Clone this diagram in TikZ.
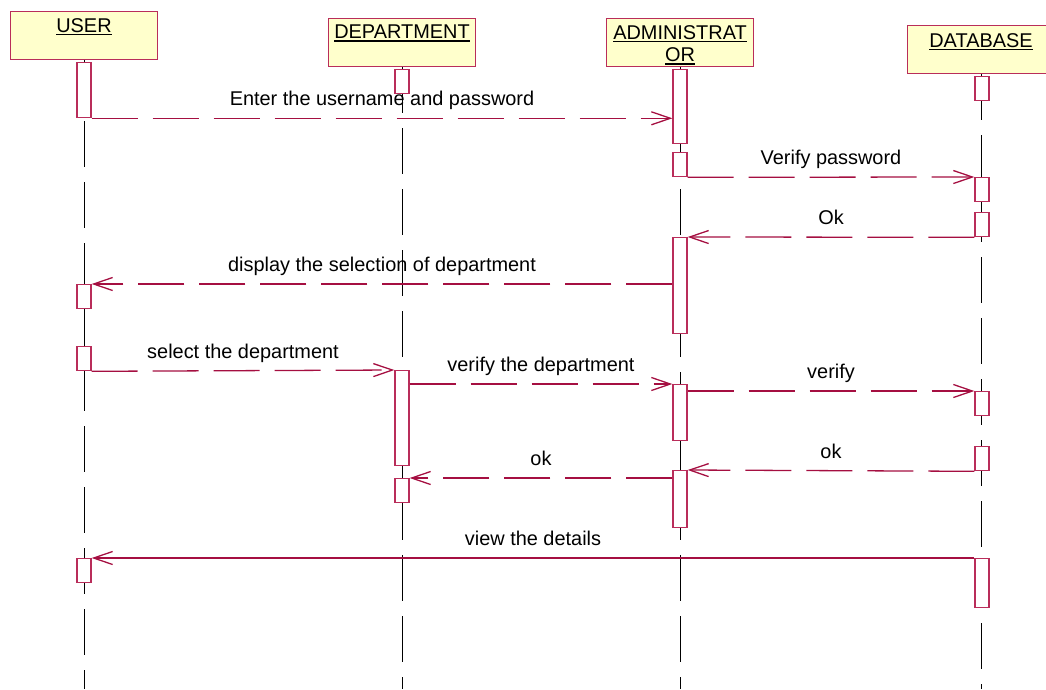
\documentclass[tikz,border=0pt]{standalone}
\usepackage{fontspec}
\setmainfont{Liberation Sans}
\usepackage{xcolor}
\usepackage{tikz}
\usetikzlibrary{arrows.meta}
\usetikzlibrary{positioning}

\definecolor{roseline}{RGB}{165,15,65}
\definecolor{rosebox}{RGB}{185,45,90}
\definecolor{rosefill}{RGB}{255,255,204}

\newcommand{\hdrul}[1]{\leavevmode\vtop{\hbox{#1}\kern1.1pt\hrule height 1.5pt}}

\tikzset{
	hdr/.style={draw=rosebox,fill=rosefill,line width=1.2pt,minimum width=4.41cm,minimum height=1.44cm,anchor=north,inner sep=0pt},
	hdrtext/.style={inner sep=0pt,align=center},
	life/.style={line width=0.8pt,dash pattern=on 1.38cm off 0.45cm},
	act/.style={draw=rosebox,fill=white,line width=1.1pt,minimum width=0.42cm,inner sep=0pt,anchor=north},
	msg/.style={draw=roseline,line width=1.1pt,dash pattern=on 1.38cm off 0.45cm,-{Straight Barb[length=0.57cm,width=0.39cm]}},
	msgsolid/.style={msg,solid},
	msgtext/.style={above=0.21cm,inner sep=0pt,text depth=0.15cm}
}

\begin{document}
\begin{tikzpicture}[x=0.03cm,y=-0.03cm,font=\fontsize{17}{19}\selectfont]
	
	\useasboundingbox (0,0) rectangle (1046,689);
	\clip (0,0) rectangle (1046,689);
	
	\coordinate (bot) at (0,689);
	
	\node [hdr] (user) at (84,11) {};
	\node [hdr] (dept) at (402,18) {};
	\node [hdr] (admin) at (680,18) {};
	\node [hdr] (db) at (981,25) {};
	
	\node [hdrtext,below=0.21cm of user.north] (usert) {\hdrul{USER}};
	\node [hdrtext,below=0.21cm of dept.north] (deptt) {\hdrul{DEPARTMENT}};
	\node [hdrtext,below=0.21cm of admin.north] (admint) {\hdrul{ADMINISTRAT}\\\hdrul{OR}};
	\node [hdrtext,below=0.24cm of db.north] (dbt) {\hdrul{DATABASE}};
	
	\draw [life] (user.south) -- (user.south |- bot);
	\draw [life] (dept.south) -- (dept.south |- bot);
	\draw [life] (admin.south) -- (admin.south |- bot);
	\draw [life] (db.south) -- (db.south |- bot);
	
	\node [act,minimum height=1.65cm] (u1) at (84,62) {};
	\node [act,minimum height=0.72cm] (u2) at (84,284) {};
	\node [act,minimum height=0.72cm] (u3) at (84,346) {};
	\node [act,minimum height=0.72cm] (u4) at (84,558) {};
	
	\node [act,minimum height=0.72cm] (d1) at (402,69) {};
	\node [act,minimum height=2.85cm] (d2) at (402,370) {};
	\node [act,minimum height=0.72cm] (d3) at (402,478) {};
	
	\node [act,minimum height=2.22cm] (a1) at (680,69) {};
	\node [act,minimum height=0.72cm] (a2) at (680,152) {};
	\node [act,minimum height=2.88cm] (a3) at (680,237) {};
	\node [act,minimum height=1.68cm] (a4) at (680,384) {};
	\node [act,minimum height=1.71cm] (a5) at (680,470) {};
	
	\node [act,minimum height=0.72cm] (b1) at (982,76) {};
	\node [act,minimum height=0.72cm] (b2) at (982,177) {};
	\node [act,minimum height=0.72cm] (b3) at (982,212) {};
	\node [act,minimum height=0.72cm] (b4) at (982,391) {};
	\node [act,minimum height=0.72cm] (b5) at (982,446) {};
	\node [act,minimum height=1.47cm] (b6) at (982,558) {};
	
	\draw [msg] (u1.south east) -- (u1.south east -| a1.west) node [msgtext,midway] {Enter the username and password};
	
	\draw [msg] (a2.south east) -- (b2.north west) node [msgtext,midway] {Verify password};
	
	\draw [msg] (b3.south west) -- (a3.north east) node [msgtext,midway] {Ok};
	
	\draw [msg] (u2.north east -| a3.west) -- (u2.north east) node [msgtext,midway] {display the selection of department};
	
	\draw [msg] (u3.south east) -- (d2.north west) node [msgtext,midway] {select the department};
	
	\draw [msg] (a4.north west -| d2.east) -- (a4.north west) node [msgtext,midway] {verify the department};
	
	\draw [msg] (b4.north west -| a4.east) -- (b4.north west) node [msgtext,midway] {verify};
	
	\draw [msg] (b5.south west) -- (a5.north east) node [msgtext,midway] {ok};
	
	\draw [msg] (d3.north east -| a5.west) -- (d3.north east) node [msgtext,midway] {ok};
	
	\draw [msgsolid] (b6.north west) -- (u4.north east) node [msgtext,midway] {view the details};
	
\end{tikzpicture}
\end{document}
